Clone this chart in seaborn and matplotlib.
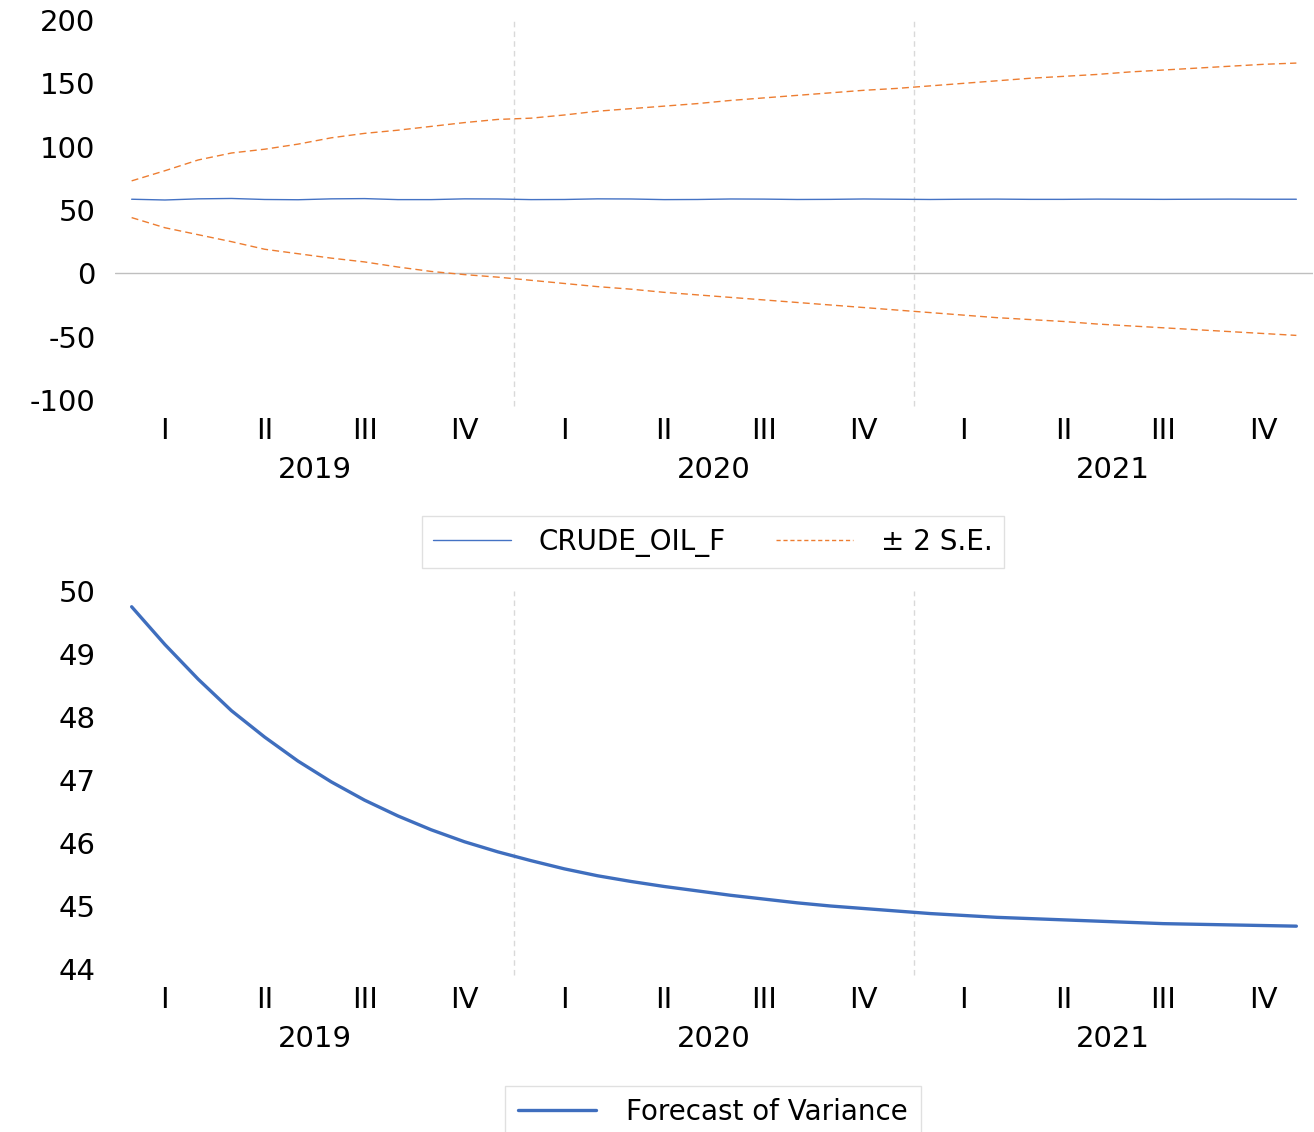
import numpy as np
import pandas as pd
import seaborn as sns
import matplotlib.pyplot as plt

years = ["2019", "2020", "2021"]
quarters = ["I", "II", "III", "IV"]

crude_oil_f = [58.5, 57.9, 58.8, 59.1, 58.3, 58.1, 58.8, 59.0, 58.2, 58.2, 58.8, 58.7,
               58.2, 58.3, 58.8, 58.7, 58.2, 58.3, 58.7, 58.6, 58.3, 58.4, 58.7, 58.5,
               58.3, 58.5, 58.6, 58.4, 58.4, 58.6, 58.5, 58.4, 58.5, 58.6, 58.5, 58.5]
upper_se = [73, 81, 89.5, 95, 98, 102, 107, 110.5, 113, 116, 119, 121.5,
            122.5, 125, 128, 130, 132, 134, 136.5, 138.5, 140.5, 142.5, 144.5, 146,
            148, 150, 152, 154, 155.5, 157, 159, 160.5, 162, 163.5, 165, 166]
lower_se = [44, 36, 30.5, 25, 19, 15.5, 12, 9, 5, 1.5, -1, -3,
            -5.5, -8, -10.5, -12.5, -15, -17, -19, -21, -23, -25, -27, -29,
            -31, -33, -35, -36.5, -38, -40, -41.5, -43, -44.5, -46, -47.5, -49]
forecast_var = [49.75, 49.15, 48.6, 48.1, 47.68, 47.3, 46.97, 46.68, 46.43, 46.21, 46.02, 45.86,
                45.72, 45.59, 45.48, 45.39, 45.31, 45.24, 45.17, 45.11, 45.05, 45.0, 44.96, 44.92,
                44.88, 44.85, 44.82, 44.8, 44.78, 44.76, 44.74, 44.72, 44.71, 44.7, 44.69, 44.68]

month = np.arange(len(crude_oil_f))
df = pd.DataFrame({"month": month, "crude": crude_oil_f, "upper": upper_se,
                   "lower": lower_se, "var": forecast_var})

sns.set_style("white")
plt.rcParams["font.family"] = ["DejaVu Sans"]
plt.rcParams["axes.unicode_minus"] = False
plt.rcParams["text.color"] = "black"

blue = "#4472C4"
orange = "#ED7D31"

fig = plt.figure(figsize=(13.14, 11.32), dpi=100)
ax1 = fig.add_axes([115 / 1314, 1 - 400 / 1132, 1198 / 1314, 380 / 1132])
ax2 = fig.add_axes([115 / 1314, 1 - 969 / 1132, 1198 / 1314, 378 / 1132])

# top panel: forecast with +/- 2 S.E. band
sns.lineplot(data=df, x="month", y="crude", ax=ax1, color=blue, lw=1, label="CRUDE_OIL_F")
sns.lineplot(data=df, x="month", y="upper", ax=ax1, color=orange, lw=1, label="± 2 S.E.")
ax1.lines[-1].set_linestyle((0, (5, 3)))
sns.lineplot(data=df, x="month", y="lower", ax=ax1, color=orange, lw=1, label="_nolegend_")
ax1.lines[-1].set_linestyle((0, (5, 3)))
ax1.axhline(0, color="#bfbfbf", lw=1, zorder=1)
ax1.set_ylim(-100, 200)
ax1.set_yticks([-100, -50, 0, 50, 100, 150, 200])

# bottom panel: variance forecast
sns.lineplot(data=df, x="month", y="var", ax=ax2, color="#3F6EBE", lw=2.4,
             label="Forecast of Variance")
ax2.set_ylim(44, 50)
ax2.set_yticks([44, 45, 46, 47, 48, 49, 50])

qpos = [y * 12 + q * 3 + 1 for y in range(len(years)) for q in range(4)]
qlab = quarters * len(years)
for ax in (ax1, ax2):
    ax.set_xlim(-0.5, 35.5)
    for b in (11.5, 23.5):
        ax.plot([b, b], [-0.015, 1.0], transform=ax.get_xaxis_transform(), clip_on=False,
                color="#d9d9d9", lw=1, ls=(0, (4, 3)), zorder=0)
    ax.set_xticks(qpos)
    ax.set_xticklabels(qlab)
    ax.tick_params(axis="x", length=0, pad=12, labelsize=21, labelcolor="black")
    ax.tick_params(axis="y", length=0, pad=14, labelsize=21, labelcolor="black")
    for i, yr in enumerate(years):
        ax.annotate(yr, xy=(i * 12 + 5.5, 0), xycoords=("data", "axes fraction"),
                    xytext=(0, -70), textcoords="offset pixels", ha="center", va="center",
                    fontsize=21, color="black")
    ax.set_xlabel("")
    ax.set_ylabel("")
    for s in ax.spines.values():
        s.set_visible(False)

leg1 = ax1.legend(loc="center", bbox_to_anchor=(713 / 1314, 1 - 542 / 1132),
                  bbox_transform=fig.transFigure, ncol=2, fontsize=20, frameon=True,
                  fancybox=False, handlelength=2.8, handletextpad=1.0, columnspacing=1.8,
                  borderpad=0.4, borderaxespad=0)
leg1.get_frame().set_facecolor("none")
leg1.get_frame().set_edgecolor("#d9d9d9")
leg1.legend_handles[1].set_linestyle((0, (3, 2)))

leg2 = ax2.legend(loc="center", bbox_to_anchor=(713 / 1314, 1 - 1112 / 1132),
                  bbox_transform=fig.transFigure, fontsize=20, frameon=True,
                  fancybox=False, handlelength=2.8, handletextpad=1.1,
                  borderpad=0.45, borderaxespad=0)
leg2.get_frame().set_facecolor("none")
leg2.get_frame().set_edgecolor("#d9d9d9")

fig.savefig("out.png", dpi=100)
